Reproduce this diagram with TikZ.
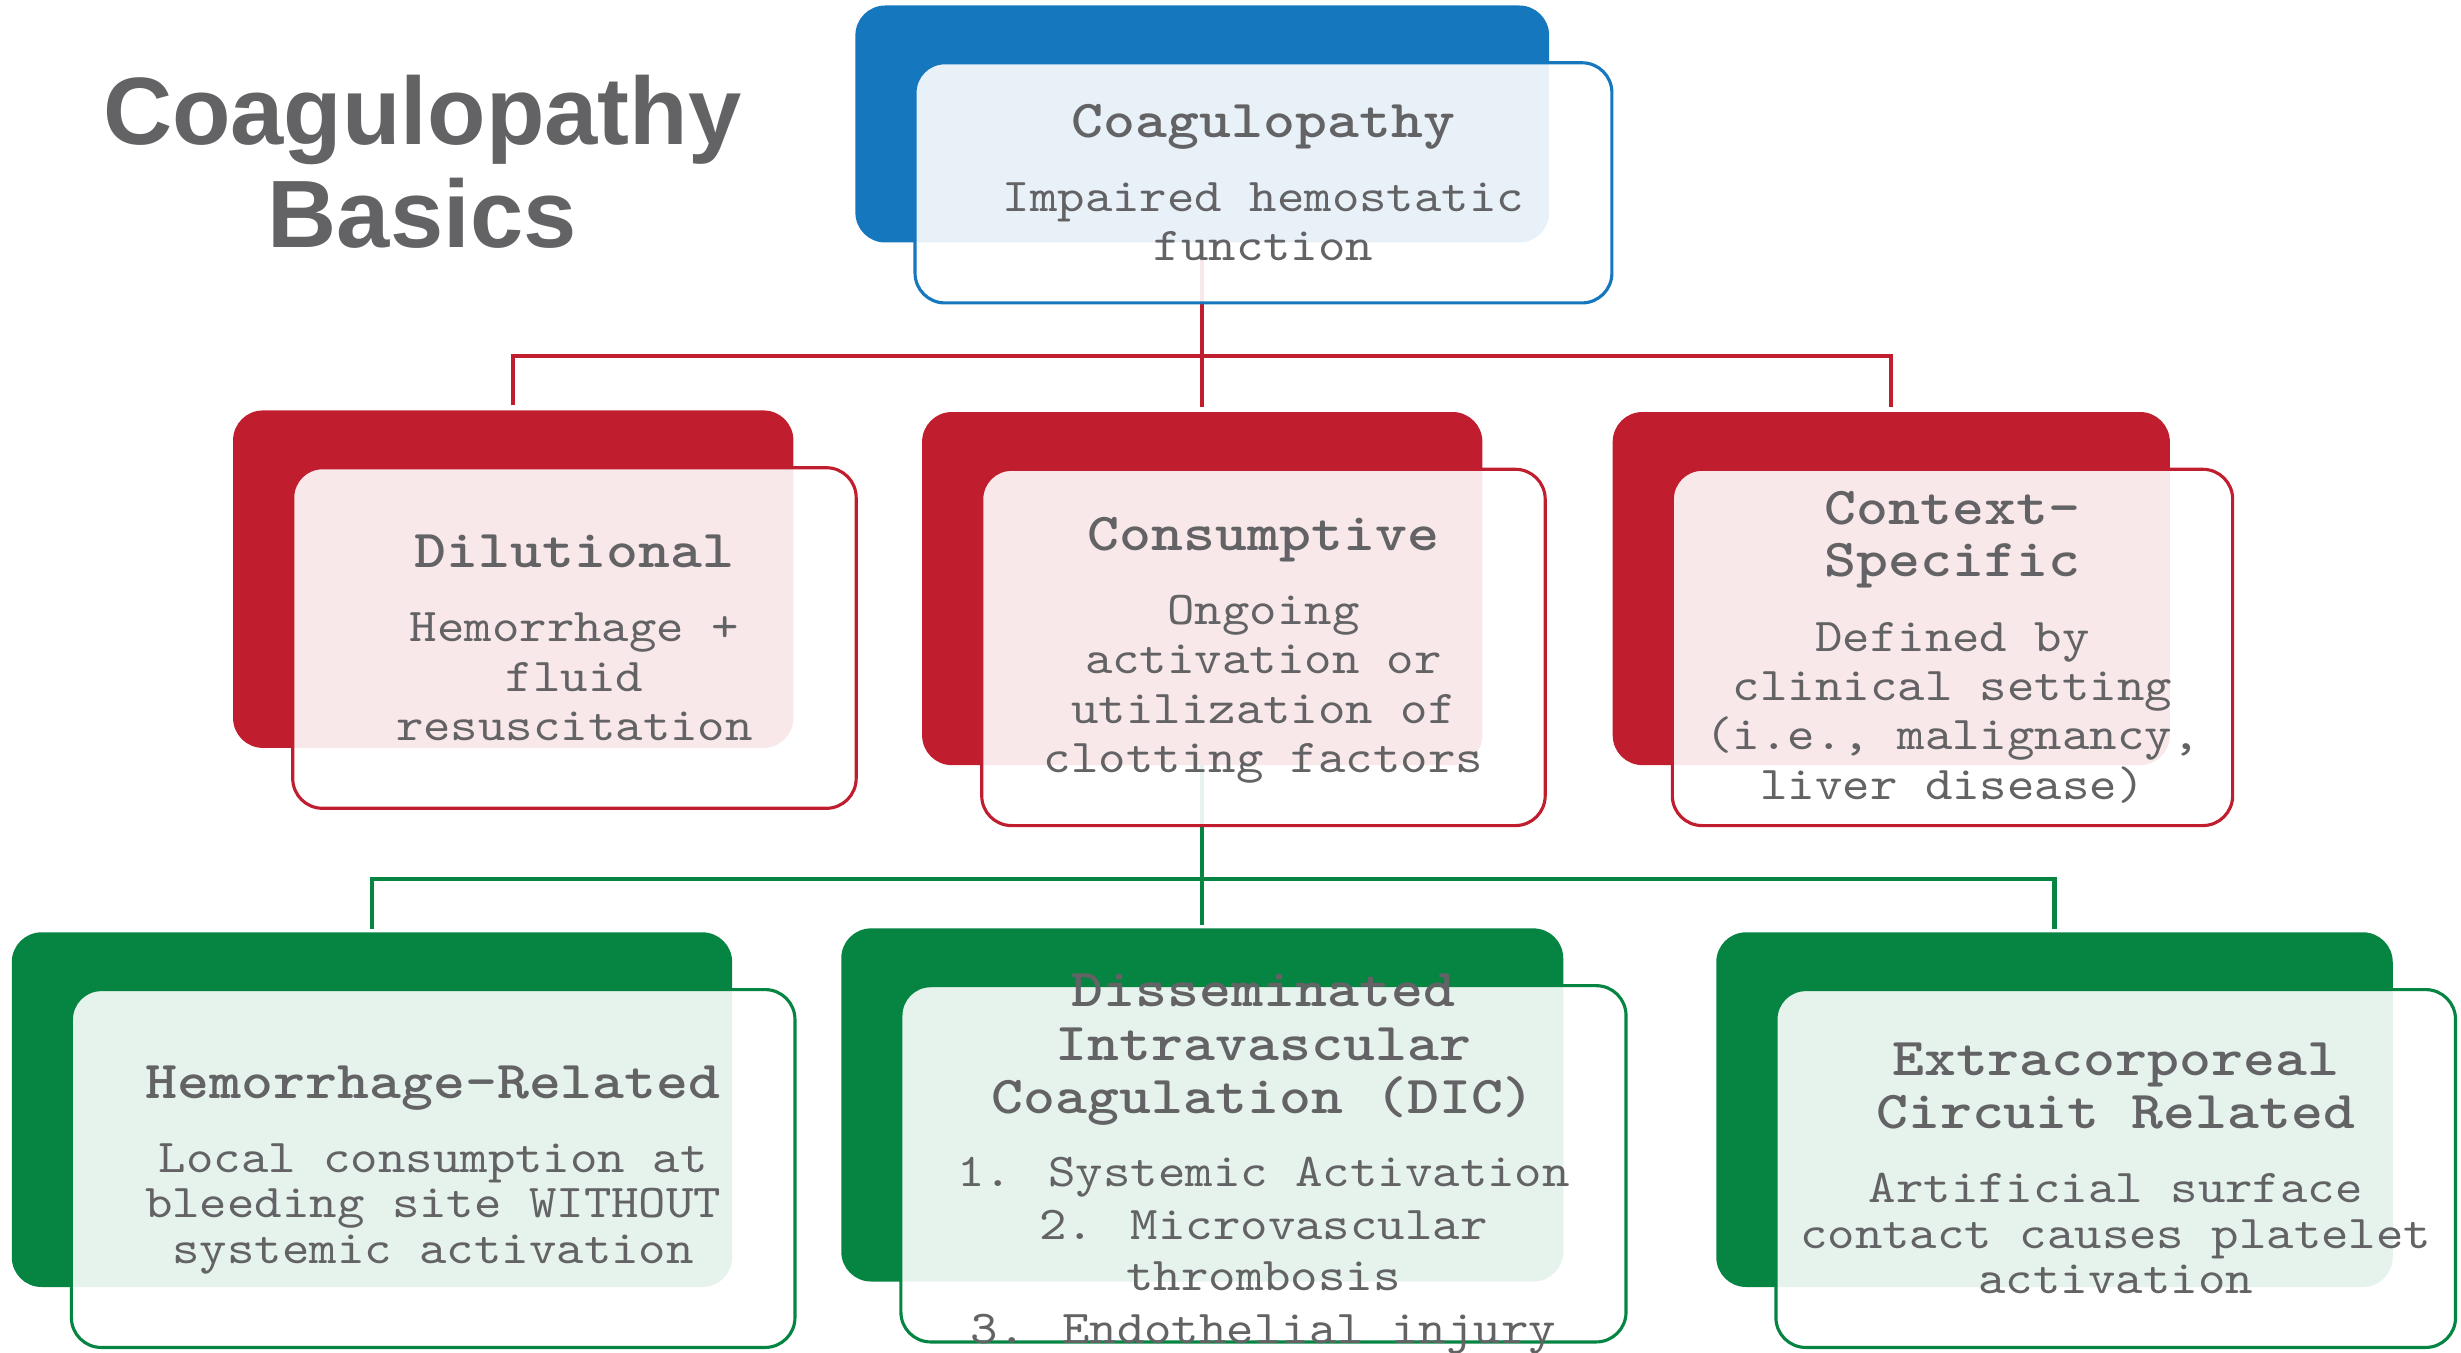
\documentclass[tikz,border=0pt]{standalone}
\usepackage{fontspec}
\usetikzlibrary{calc}
\usetikzlibrary{backgrounds}
\usetikzlibrary{positioning}
\setmainfont{Liberation Sans}
\newfontfamily\bodyfont[FakeStretch=1.11]{lmmono10-regular.otf}
\newfontfamily\headfont[FakeStretch=1.14]{lmmonolt10-bold.otf}
\definecolor{blueC}{RGB}{21,119,190}
\definecolor{redC}{RGB}{192,30,46}
\definecolor{greenC}{RGB}{5,132,66}
\definecolor{txtgray}{RGB}{99,99,102}
\newcommand\hd{\headfont\fontsize{34}{34}\selectfont}
\newcommand\bd{\bodyfont\fontsize{30}{31.5}\selectfont}
\tikzset{backbox/.style={rectangle,rounded corners=19pt,fill=#1,inner sep=0pt}}
\tikzset{frontbox/.style={rectangle,rounded corners=19pt,draw=#1,line width=2pt,fill=white,fill opacity=0.9,inner sep=0pt}}
\tikzset{boxtext/.style={align=center,text=txtgray,font=\bd,inner sep=0pt}}
\tikzset{link/.style={draw=#1,line width=2.6pt}}

\begin{document}
\begin{tikzpicture}[x=1pt,y=-1pt]
\clip (0,0) rectangle (1568,862);
% boxes: back card and front card
\foreach \n/\x/\y/\w/\h/\c in {top/766/79/442/151/blueC, dil/327/369/357/215/redC,
    cons/766/375/357/225/redC, ctx/1205/375/355/225/redC,
    hem/237/707/459/226/greenC, dic/766/704/460/225/greenC, ext/1309/707/431/226/greenC} {
	\node[backbox=\c, minimum width=\w, minimum height=\h] (B\n) at (\x,\y) {};
	\node[frontbox=\c, minimum width=\w+2, minimum height=\h+2] (F\n) at ($(B\n)+(39,37.5)$) {};
}
\coordinate (redbus) at (0,227);
\coordinate (greenbus) at (0,560);
\begin{scope}[on background layer]
\draw[link=redC, shorten >=3pt] (Btop.south) -- (Bcons.north);
\draw[link=redC] ($(Bdil.north)+(0,-3)$) |- (Bctx.north |- redbus) -- ($(Bctx.north)+(0,-3)$);
\draw[link=greenC, shorten >=2pt] (Bcons.south) -- (Bdic.north);
\draw[link=greenC] ($(Bhem.north)+(0,-2)$) |- (Bext.north |- greenbus) -- ($(Bext.north)+(0,-2)$);
\end{scope}
% texts
\node[align=center, text=txtgray, font=\bfseries\fontsize{61}{65.6}\selectfont, inner sep=0pt] (title) at (269,103) {Coagulopathy\\Basics};
\node[boxtext] (Ttop) at (Ftop) {\hd Coagulopathy\\[15.5pt]Impaired hemostatic\\function};
\node[boxtext] (Tdil) at (Fdil) {\hd Dilutional\\[15.5pt]Hemorrhage +\\fluid\\resuscitation};
\node[boxtext] (Tcons) at ($(Fcons)+(0,2)$) {\hd Consumptive\\[15.5pt]Ongoing\\activation or\\utilization of\\clotting factors};
\node[boxtext] (Tctx) at (Fctx) {\hd Context-\\[1.5pt]\hd Specific\\[16pt]Defined by\\clinical setting\\(i.e., malignancy,\\liver disease)};
\node[boxtext] (Them) at ($(Fhem)+(0,1)$) {\hd Hemorrhage-Related\\[15.5pt]Local consumption at\\[-2.5pt]bleeding site WITHOUT\\[-2.5pt]systemic activation};
\node[boxtext] (Tdic) at (Fdic) {\hd Disseminated\\[3pt]\hd Intravascular\\[2pt]\hd Coagulation (DIC)\\[15.5pt]1. Systemic Activation\\[2pt]2. Microvascular\\[1pt]thrombosis\\[2pt]3. Endothelial injury};
\node[boxtext] (Text) at (Fext) {\hd Extracorporeal\\[2.5pt]\hd Circuit Related\\[15.5pt]Artificial surface\\[-2.5pt]contact causes platelet\\[-2.5pt]activation};
\end{tikzpicture}
\end{document}
